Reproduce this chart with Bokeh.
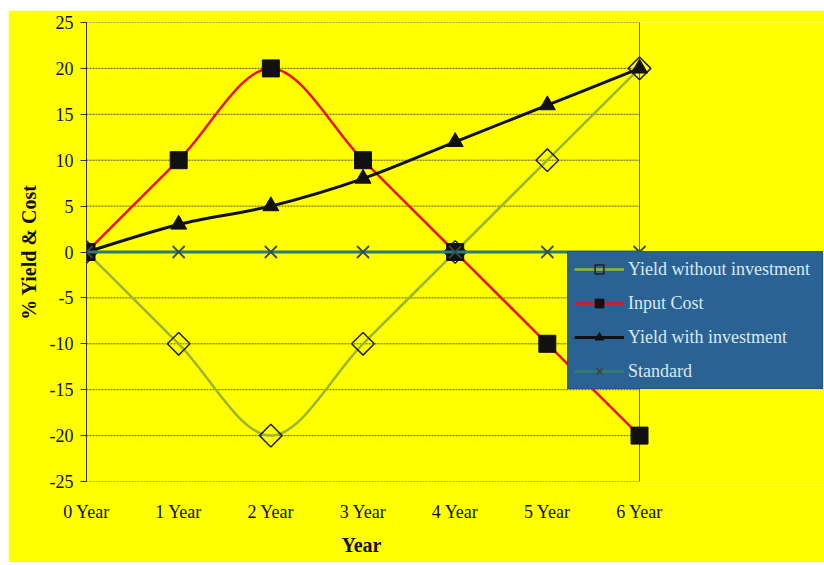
import numpy as np
from bokeh.plotting import figure
from bokeh.models import FixedTicker, Legend, LegendItem, ColumnDataSource, Title
from bokeh.embed import file_html
from bokeh.resources import INLINE

years = [0, 1, 2, 3, 4, 5, 6]
year_labels = ["0 Year", "1 Year", "2 Year", "3 Year", "4 Year", "5 Year", "6 Year"]
yield_without = [0, -10, -20, -10, 0, 10, 20]
input_cost = [0, 10, 20, 10, 0, -10, -20]
yield_with = [0, 3, 5, 8, 12, 16, 20]
standard = [0, 0, 0, 0, 0, 0, 0]
y_ticks = [-25, -20, -15, -10, -5, 0, 5, 10, 15, 20, 25]

FONT = "Liberation Serif"


def smooth_source(xs, ys):
    """Excel-style smoothed line: cubic Bezier segments through the data points."""
    n = len(xs)
    d = dict(x0=[], y0=[], x1=[], y1=[], cx0=[], cy0=[], cx1=[], cy1=[])
    for i in range(n - 1):
        pm = max(i - 1, 0)
        pp = min(i + 2, n - 1)
        d["x0"].append(xs[i]); d["y0"].append(ys[i])
        d["x1"].append(xs[i + 1]); d["y1"].append(ys[i + 1])
        d["cx0"].append(xs[i] + (xs[i + 1] - xs[pm]) / 6.0)
        d["cy0"].append(ys[i] + (ys[i + 1] - ys[pm]) / 6.0)
        d["cx1"].append(xs[i + 1] - (xs[pp] - xs[i]) / 6.0)
        d["cy1"].append(ys[i + 1] - (ys[pp] - ys[i]) / 6.0)
    return ColumnDataSource(d)


# plot area spans years 0..6; the frame is widened to the right so the legend can sit there
x_end = years[-1] * (824 - 86) / (639 - 86)

p = figure(width=816, height=552, x_range=(years[0], x_end), y_range=(y_ticks[0], y_ticks[-1]),
           output_backend="svg", toolbar_location=None,
           min_border_left=78, min_border_right=0, min_border_top=12, min_border_bottom=76)
p.margin = (10, 0, 0, 8)
p.background_fill_color = "#ffff00"
p.border_fill_color = "#ffff00"
p.outline_line_color = None
p.xgrid.grid_line_color = None
p.ygrid.grid_line_color = None

# horizontal gridlines (also top/bottom border of the plot area) and right border
p.segment(x0=[years[0]] * len(y_ticks), x1=[years[-1]] * len(y_ticks), y0=y_ticks, y1=y_ticks,
          line_color="#55552a", line_dash="2 1", line_width=1)
p.segment(x0=[years[-1]], x1=[years[-1]], y0=[y_ticks[0]], y1=[y_ticks[-1]],
          line_color="#5a5a3a", line_width=1)

# x axis
p.xaxis.ticker = FixedTicker(ticks=years)
p.xaxis.major_label_overrides = {y: l for y, l in zip(years, year_labels)}
p.xaxis.axis_line_color = None
p.xaxis.major_tick_line_color = None
p.xaxis.major_tick_out = 0
p.xaxis.major_tick_in = 0
p.xaxis.minor_tick_line_color = None
p.xaxis.major_label_standoff = 20
p.xaxis.major_label_text_font = FONT
p.xaxis.major_label_text_font_size = "18px"
p.xaxis.major_label_text_color = "#111111"

xtitle = Title(text="Year", align="left", offset=255, standoff=14,
               text_font=FONT, text_font_style="bold", text_font_size="20px",
               text_color="#111111")
p.add_layout(xtitle, "below")

# y axis
p.yaxis.ticker = FixedTicker(ticks=y_ticks)
p.yaxis.major_label_overrides = {t: str(t) for t in y_ticks}
p.yaxis.axis_line_color = "#333322"
p.yaxis.major_tick_line_color = "#333322"
p.yaxis.major_tick_out = 6
p.yaxis.major_tick_in = 0
p.yaxis.minor_tick_line_color = None
p.yaxis.major_label_standoff = 7
p.yaxis.major_label_text_font = FONT
p.yaxis.major_label_text_font_size = "18px"
p.yaxis.major_label_text_color = "#111111"
p.yaxis.axis_label = "% Yield & Cost"
p.yaxis.axis_label_text_font = FONT
p.yaxis.axis_label_text_font_style = "bold"
p.yaxis.axis_label_text_font_size = "20px"
p.yaxis.axis_label_text_color = "#111111"
p.yaxis.axis_label_standoff = 7

# series
bez_kw = dict(x0="x0", y0="y0", x1="x1", y1="y1", cx0="cx0", cy0="cy0", cx1="cx1", cy1="cy1")

g_line = p.bezier(source=smooth_source(years, yield_without), line_color="#9ab52e", line_width=2.5, **bez_kw)
g_mark = p.scatter(years, yield_without, marker="square", angle=np.pi / 4, size=16,
                   fill_color=None, line_color="#222211", line_width=1.5)

r_line = p.bezier(source=smooth_source(years, input_cost), line_color="#ee1111", line_width=2.5, **bez_kw)
r_mark = p.scatter(years, input_cost, marker="square", size=17,
                   fill_color="#111111", line_color="#111111")

b_line = p.bezier(source=smooth_source(years, yield_with), line_color="#111111", line_width=3, **bez_kw)
b_mark = p.scatter(years, yield_with, marker="triangle", size=16,
                   fill_color="#111111", line_color="#111111")

s_line = p.bezier(source=smooth_source(years, standard), line_color="#2e7b70", line_width=3, **bez_kw)
s_mark = p.scatter(years, standard, marker="x", size=17,
                   line_color="#3a4848", line_width=1.8)

legend = Legend(items=[
    LegendItem(label="Yield without investment", renderers=[g_line, g_mark]),
    LegendItem(label="Input Cost", renderers=[r_line, r_mark]),
    LegendItem(label="Yield with investment", renderers=[b_line, b_mark]),
    LegendItem(label="Standard", renderers=[s_line, s_mark]),
], location=(481, 92))
legend.background_fill_color = "#2a6393"
legend.background_fill_alpha = 1
legend.border_line_color = "#1d4a70"
legend.label_text_font = FONT
legend.label_text_font_size = "18px"
legend.label_text_color = "#dbe8f0"
legend.glyph_width = 50
legend.glyph_height = 22
legend.label_height = 22
legend.label_width = 188
legend.spacing = 12
legend.padding = 6
legend.margin = 0
legend.label_standoff = 4
p.add_layout(legend)

open("out.html", "w").write(file_html(p, INLINE))
